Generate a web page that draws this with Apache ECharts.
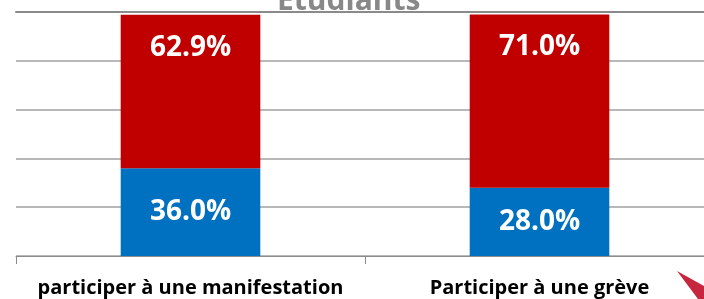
<!DOCTYPE html>
<html>
<head>
<meta charset="utf-8">
<script src="https://cdn.jsdelivr.net/npm/echarts@6/dist/echarts.min.js"></script>
<style>html,body{margin:0;padding:0;background:#fff}#c{width:704px;height:299px}</style>
</head>
<body>
<div id="c"></div>
<script>
const categories = ['participer à une manifestation', 'Participer à une grève'];
const blueValues = [36.0, 28.0];
const redValues = [62.9, 71.0];
const yTicks = [0, 20, 40, 60, 80, 100];
const titleText = 'Etudiants';

const chart = echarts.init(document.getElementById('c'));
const font = '"Open Sans", "Noto Sans", sans-serif';
chart.setOption({
  animation: false,
  title: {
    text: titleText,
    left: 277,
    top: -14,
    padding: 0,
    textStyle: { fontFamily: font, fontWeight: 'bold', fontSize: 30, color: '#888888' }
  },
  grid: { left: 16, top: 12, width: 698, height: 244, containLabel: false, outerBoundsMode: 'none' },
  xAxis: [{
    type: 'category',
    data: categories,
    axisLine: { lineStyle: { color: '#8a8a8a', width: 1 } },
    axisTick: { show: true, interval: 0, length: 8, lineStyle: { color: '#8a8a8a' } },
    axisLabel: { interval: 0, hideOverlap: false, fontFamily: font, fontWeight: 'bold', fontSize: 20, color: '#000', margin: 22 }
  }, {
    type: 'category',
    position: 'top',
    data: categories,
    axisLine: { show: true, lineStyle: { color: '#8a8a8a', width: 2 } },
    axisTick: { show: false },
    axisLabel: { show: false }
  }],
  yAxis: {
    type: 'value',
    min: yTicks[0],
    max: yTicks[yTicks.length - 1],
    interval: 20,
    axisLine: { show: false },
    axisTick: { show: false },
    axisLabel: { show: false },
    splitLine: { lineStyle: { color: '#a0a0a0', width: 1.5 } }
  },
  series: [{
    type: 'bar',
    stack: 't',
    data: blueValues,
    barWidth: '40%',
    itemStyle: { color: '#0070C0' },
    label: {
      show: true, position: 'inside', formatter: p => p.value.toFixed(1) + '%',
      color: '#fff', fontFamily: font, fontWeight: 'bold', fontSize: 28
    }
  }, {
    type: 'bar',
    stack: 't',
    data: redValues,
    barWidth: '40%',
    itemStyle: { color: '#C00000' },
    label: {
      show: true, position: 'insideTop', distance: 19, formatter: p => p.value.toFixed(1) + '%',
      color: '#fff', fontFamily: font, fontWeight: 'bold', fontSize: 28
    }
  }],
  graphic: [{
    type: 'polygon',
    shape: { points: [[677, 271], [704, 286], [704, 299], [698, 299]] },
    style: { fill: '#c0102a', opacity: 0.9 }
  }]
});
</script>
</body>
</html>
